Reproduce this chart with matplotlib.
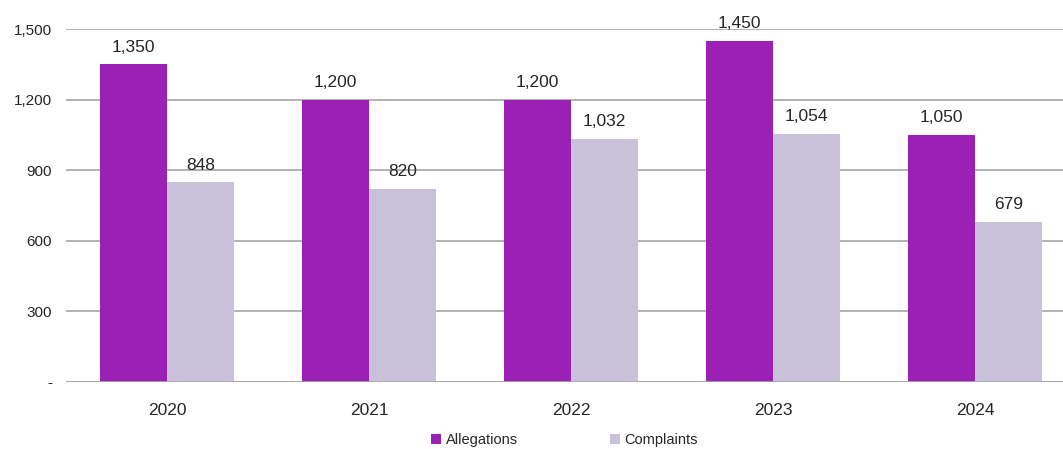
import numpy as np
import matplotlib.pyplot as plt

plt.rcParams['font.family'] = ['Liberation Sans', 'DejaVu Sans']

years = ['2020', '2021', '2022', '2023', '2024']
allegations = [1350, 1200, 1200, 1450, 1050]
complaints = [848, 820, 1032, 1054, 679]
yticks = [0, 300, 600, 900, 1200, 1500]
ytick_labels = ['-', '300', '600', '900', '1,200', '1,500']

purple = '#9B20B5'
lilac = '#C9C1DA'
grid_col = '#A6A6A6'
text_col = '#262626'

fig = plt.figure(figsize=(10.63, 4.49), dpi=100)
ax = fig.add_axes([0.0621, 0.1492, 0.938, 0.786])

x = np.arange(len(years))
w = 0.332
b1 = ax.bar(x - w / 2, allegations, w, color=purple, label='Allegations', zorder=3)
b2 = ax.bar(x + w / 2, complaints, w, color=lilac, label='Complaints', zorder=3)

# value labels above each bar
for bars, vals in ((b1, allegations), (b2, complaints)):
    for rect, v in zip(bars, vals):
        ax.text(rect.get_x() + rect.get_width() / 2, v + 42, f'{v:,}',
                ha='center', va='bottom', fontsize=12.5, color=text_col, clip_on=False)

ax.set_xlim(-0.5, 4.436)
ax.set_ylim(0, 1500)
ax.set_yticks(yticks)
ax.set_yticklabels(ytick_labels)
ax.set_xticks(x)
ax.set_xticklabels(years)
ax.yaxis.grid(True, color=grid_col, linewidth=1.2, zorder=0)
for s in ax.spines.values():
    s.set_visible(False)
ax.axhline(0, color=grid_col, linewidth=1.2, zorder=4)
ax.tick_params(axis='y', length=0, pad=10, labelsize=11, labelcolor=text_col)
ax.tick_params(axis='x', length=0, pad=15, labelsize=12.5, labelcolor=text_col)

fig.legend(loc='lower center', bbox_to_anchor=(0.531, -0.025), ncol=2, frameon=False,
           fontsize=10.5, handlelength=0.7, handleheight=0.7, handletextpad=0.3,
           columnspacing=6.3, labelcolor=text_col)

fig.savefig('out.png', dpi=100)
